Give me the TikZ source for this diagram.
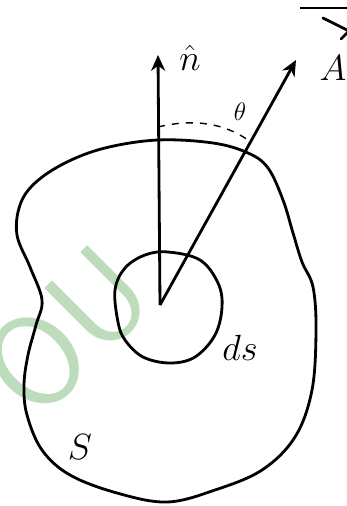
\documentclass[tikz,border=0pt]{standalone}
\usetikzlibrary{arrows.meta}
\definecolor{wmgreen}{RGB}{188,220,188}
\begin{document}
\begin{tikzpicture}[
    x=0.02cm, y=-0.02cm,
    curve/.style={line width=1.6pt, black},
    vec/.style={line width=1.6pt, -{Stealth[length=9pt,width=8pt]}},
    angle/.style={line width=0.8pt, dashed, dash pattern=on 4pt off 4pt},
    lbl/.style={font=\huge},
    watermark/.style={text=wmgreen, font=\sffamily\fontsize{74}{74}\selectfont}
]
\useasboundingbox (0,0) rectangle (346,506);

% --- watermark ---
\node[watermark, rotate=45] (wm) at (66,331) {OU};

% --- surface S ---
\draw[curve] plot[smooth cycle, tension=0.6] coordinates {
    (158,140) (213,143) (248,153) (268,168) (283,200) (293,233) (302,262)
    (313,287) (316,330) (312,390) (295,437) (262,470) (215,490) (167,502)
    (117,493) (70,475) (42,450) (27,415) (24,385) (28,355) (36,325) (42,300)
    (30,267) (17,235) (20,205) (35,183) (65,163) (105,148)};

% --- element ds ---
\draw[curve] plot[smooth cycle, tension=0.6] coordinates {
    (168,252) (200,260) (218,283) (222,307) (215,335) (195,357) (170,363)
    (143,357) (125,340) (118,322) (115,290) (125,268) (145,255)};

% --- vectors ---
\coordinate (O) at (160,305);
\coordinate (ntip) at (158,55);
\coordinate (Atip) at (296,60);
\draw[vec] (O) -- (ntip);
\draw[vec] (O) -- (Atip);

% --- angle ---
\coordinate (t1) at (158,127);
\coordinate (t2) at (248,140);
\draw[angle] (t1) .. controls (195,118) and (225,124) .. (t2);

% --- labels ---
\node[lbl] (n) at (190,58) {$\hat{n}$};
\node[lbl] (A) at (333,68) {$A$};
% arrow over A (cut at the edge)
\coordinate (Abar) at (300,8);
\draw[line width=1.6pt] (Abar) -- ++(60,0);
\draw[line width=1.6pt, line cap=round] ([shift={(-10,-50)}]A.center)
    -- ++(26,13) -- ++(-8,8);
\node[font=\Large] (th) at (240,112) {$\theta$};
\node[lbl] (ds) at (240,348) {$ds$};
\node[lbl] (S) at (80,447) {$S$};

\end{tikzpicture}
\end{document}
